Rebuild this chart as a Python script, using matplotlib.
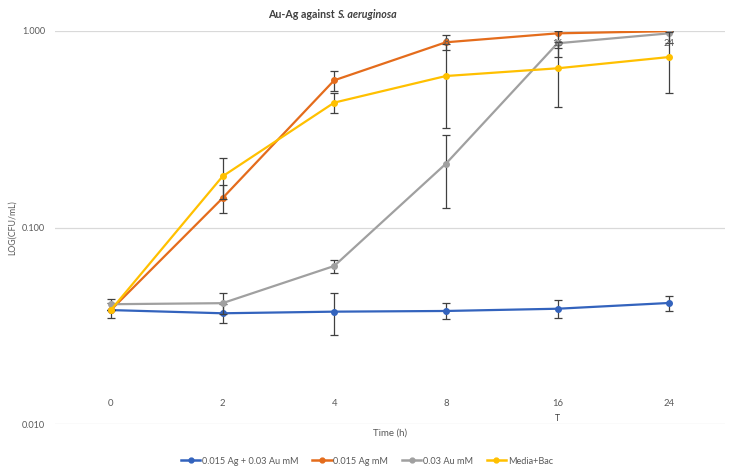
import matplotlib
matplotlib.use("Agg")
import matplotlib.pyplot as plt
import numpy as np
from matplotlib.transforms import blended_transform_factory
from matplotlib.lines import Line2D

plt.rcParams['font.family'] = ['Lato', 'DejaVu Sans']

categories = ['0', '2', '4', '8', '16', '24']
series_names = ['0.015 Ag + 0.03 Au mM', '0.015 Ag mM', '0.03 Au mM', 'Media+Bac']
colors = ['#3363BD', '#E46C1C', '#A0A0A0', '#FFC000']

blue = [0.038, 0.0366, 0.0373, 0.0376, 0.0386, 0.0413]
blue_err = [0.0035, 0.004, 0.009, 0.0035, 0.004, 0.0036]
orange = [0.038, 0.141, 0.561, 0.876, 0.973, 0.998]
orange_err = [0.0, 0.023, 0.065, 0.078, 0.155, 0.0]
gray = [0.0407, 0.0412, 0.0637, 0.211, 0.866, 0.973]
gray_err = [0.0025, 0.005, 0.005, 0.086, 0.13, 0.10]
yellow = [0.038, 0.182, 0.432, 0.590, 0.646, 0.737]
yellow_err = [0.0, 0.043, 0.05, 0.27, 0.235, 0.252]

values = [blue, orange, gray, yellow]
errors = [blue_err, orange_err, gray_err, yellow_err]

# x-value data labels of the gray series (category, y position)
label_cats = ['8', '16', '24']
label_y = [0.876, 0.866, 0.866]

fig = plt.figure(figsize=(7.34, 4.74), dpi=100)
ax = fig.add_axes([55/734, 1-424/474, 670/734, 393/474])

x = np.arange(len(categories))
for vals, errs, c, z in zip(values, errors, colors, [2, 3, 4, 5]):
    ax.errorbar(x, vals, yerr=errs, color=c, lw=1.6, marker='o', markersize=4,
                ecolor='#404040', elinewidth=0.9, capsize=2.8, capthick=0.9,
                zorder=z)

ax.set_yscale('log')
ax.set_ylim(0.01, 1.0)
ax.set_xlim(-0.5, len(categories) - 0.5)
ax.set_yticks([0.01, 0.1, 1.0])
ax.set_yticklabels(['0.010', '0.100', '1.000'])
ax.yaxis.set_minor_locator(matplotlib.ticker.NullLocator())
ax.tick_params(axis='y', length=0, pad=7, labelsize=6.6, labelcolor='#595959')
ax.set_xticks([])
for s in ax.spines.values():
    s.set_visible(False)
ax.grid(axis='y', which='major', color='#D9D9D9', lw=0.9, zorder=0)
ax.set_axisbelow(True)

# category labels inside plot area
trans = blended_transform_factory(ax.transData, ax.transAxes)
for i, lab in enumerate(categories):
    ax.text(i, 0.053, lab, transform=trans, ha='center', va='center',
            fontsize=6.8, color='#595959')
ax.text(categories.index('16'), 0.015, 'T', transform=trans, ha='center', va='center',
        fontsize=6.3, color='#404040')

for cat, yv in zip(label_cats, label_y):
    ax.text(categories.index(cat), yv, cat, ha='center', va='center',
            fontsize=6.8, color='#595959', zorder=10)

ax.set_ylabel('LOG(CFU/mL)', fontsize=6.3, color='#595959')
ax.yaxis.set_label_coords(-0.057, 0.5)

fig.text(390/734, 1-433/474, 'Time (h)', ha='center', va='center',
         fontsize=7, color='#595959')

# title with italic part
t1 = fig.text(268/734, 1-15/474, 'Au-Ag against ', ha='left', va='center',
              fontsize=7.7, fontweight='bold', color='#404040')
fig.canvas.draw()
bb = t1.get_window_extent(fig.canvas.get_renderer())
fig.text(bb.x1/fig.bbox.width, 1-15/474, 'S. aeruginosa', ha='left', va='center',
         fontsize=7.7, fontweight='bold', style='italic', color='#404040')

handles = [Line2D([], [], color=c, lw=1.8, marker='o', markersize=3.5) for c in colors]
leg = fig.legend(handles, series_names, loc='center', bbox_to_anchor=(367/734, 1-461/474),
                 ncol=4, frameon=False, fontsize=6.6, handlelength=2.1, handletextpad=0.2,
                 columnspacing=1.5, labelcolor='#595959')

fig.savefig('out.png', dpi=100)
